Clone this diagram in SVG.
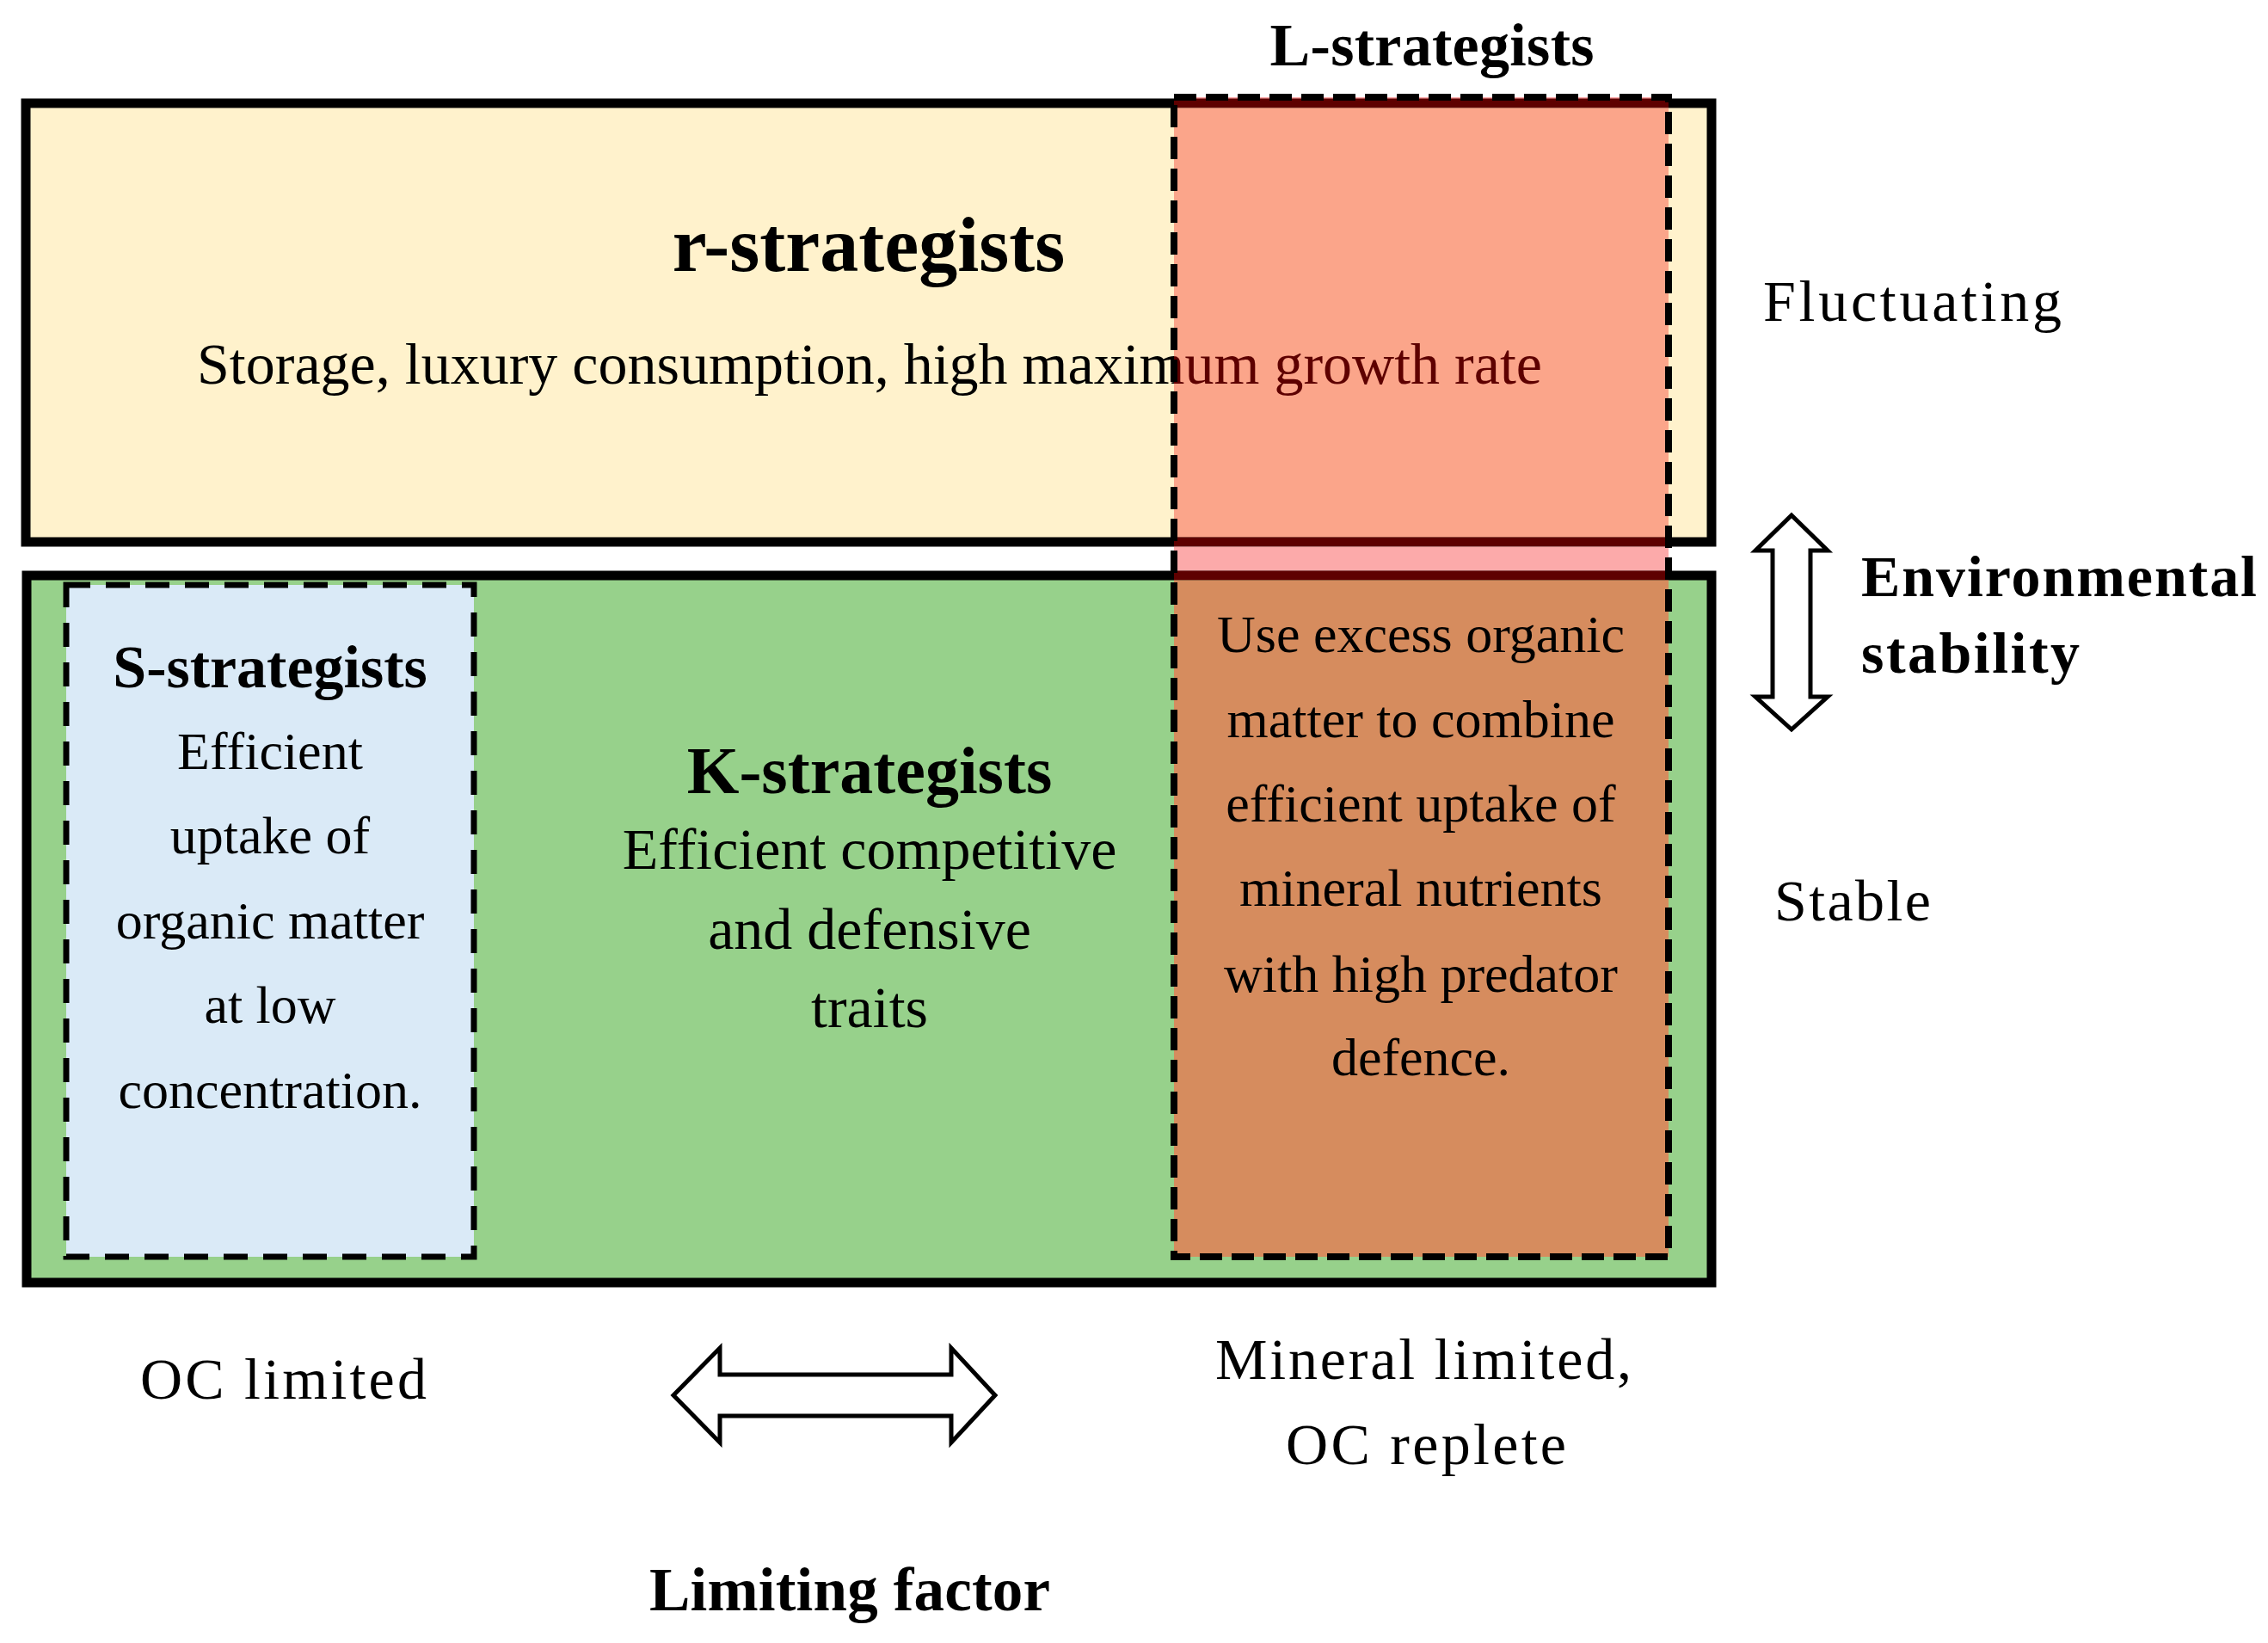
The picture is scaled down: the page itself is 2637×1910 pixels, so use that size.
<svg xmlns="http://www.w3.org/2000/svg" width="2637" height="1910" viewBox="0 0 2637 1910">
<style>
text{font-family:"Liberation Serif","Times New Roman",serif;fill:#000}
.b{font-weight:bold}
.r68{font-size:68px}
.mid{text-anchor:middle}
.box{stroke:#000;stroke-width:11}
.dash{fill:none;stroke:#000;stroke-width:8;stroke-dasharray:26 11}
.arrow{fill:#fff;stroke:#000;stroke-width:5;stroke-linejoin:miter}
</style>
<defs>
<clipPath id="clipL"><rect x="1365" y="125" width="575" height="500"/></clipPath>
</defs>
<rect width="2637" height="1910" fill="#fff"/>

<g id="r-box">
<rect class="box" x="30" y="120" width="1960" height="510" fill="#FFF2CC"/>
<text class="b mid" x="1010" y="315" font-size="90">r-strategists</text>
<text class="r68" x="229" y="446" textLength="1564">Storage, luxury consumption, high maximum growth rate</text>
</g>

<g id="k-box">
<rect class="box" x="31" y="669" width="1959" height="822" fill="#97D18B"/>
<text class="b mid" x="1011" y="922" font-size="78">K-strategists</text>
<text class="r68 mid" x="1011" y="1010">Efficient competitive</text>
<text class="r68 mid" x="1011" y="1103">and defensive</text>
<text class="r68 mid" x="1011" y="1194">traits</text>
</g>

<g id="s-box">
<rect x="77" y="680" width="474" height="781" fill="#DAEAF7" stroke="#000" stroke-width="7" stroke-dasharray="28 18"/>
<text class="b mid" x="314" y="799" font-size="70">S-strategists</text>
<g font-size="62">
<text class="mid" x="314" y="894">Efficient</text>
<text class="mid" x="314" y="992">uptake of</text>
<text class="mid" x="314" y="1091">organic matter</text>
<text class="mid" x="314" y="1189">at low</text>
<text class="mid" x="314" y="1288">concentration.</text>
</g>
</g>

<g id="l-box">
<rect x="1365" y="113" width="575" height="2" fill="#FDA9A9"/>
<rect x="1365" y="114.5" width="575" height="11" fill="#5E0000"/>
<rect x="1365" y="125.5" width="575" height="499" fill="#FBA58A"/>
<text class="r68" x="229" y="446" textLength="1564" clip-path="url(#clipL)" style="fill:#5E0000">Storage, luxury consumption, high maximum growth rate</text>
<rect x="1365" y="624.5" width="575" height="11" fill="#5E0000"/>
<rect x="1365" y="635.5" width="575" height="28" fill="#FCAAAA"/>
<rect x="1365" y="663.5" width="575" height="11" fill="#5E0000"/>
<rect x="1365" y="674.5" width="575" height="786.5" fill="#D68C5E"/>
<rect class="dash" x="1365" y="113" width="575" height="1348"/>
<text class="b mid" x="1665" y="76" font-size="70" textLength="377">L-strategists</text>
<g font-size="62">
<text class="mid" x="1652" y="758">Use excess organic</text>
<text class="mid" x="1652" y="857">matter to combine</text>
<text class="mid" x="1652" y="955">efficient uptake of</text>
<text class="mid" x="1652" y="1053">mineral nutrients</text>
<text class="mid" x="1652" y="1153">with high predator</text>
<text class="mid" x="1652" y="1250">defence.</text>
</g>
</g>

<g id="axis-labels">
<text class="r68" x="2050" y="373" textLength="347">Fluctuating</text>
<text class="b r68" x="2164" y="693" textLength="460">Environmental</text>
<text class="b r68" x="2164" y="782" textLength="254">stability</text>
<text class="r68" x="2063" y="1070" textLength="182">Stable</text>
<text class="r68" x="163" y="1626" textLength="333">OC limited</text>
<text class="r68 mid" x="1655" y="1603" textLength="484">Mineral limited,</text>
<text class="r68 mid" x="1658" y="1702" textLength="326">OC replete</text>
<text class="b mid" x="988" y="1872" font-size="71" textLength="466">Limiting factor</text>
</g>

<g id="connectors">
<polygon class="arrow" points="2083,599 2125,640 2105,640 2105,810 2125,810 2083,848 2041,810 2061,810 2061,640 2041,640"/>
<polygon class="arrow" points="783,1622 837,1567 837,1598 1106,1598 1106,1567 1157,1622 1106,1677 1106,1646 837,1646 837,1677"/>
</g>
</svg>
